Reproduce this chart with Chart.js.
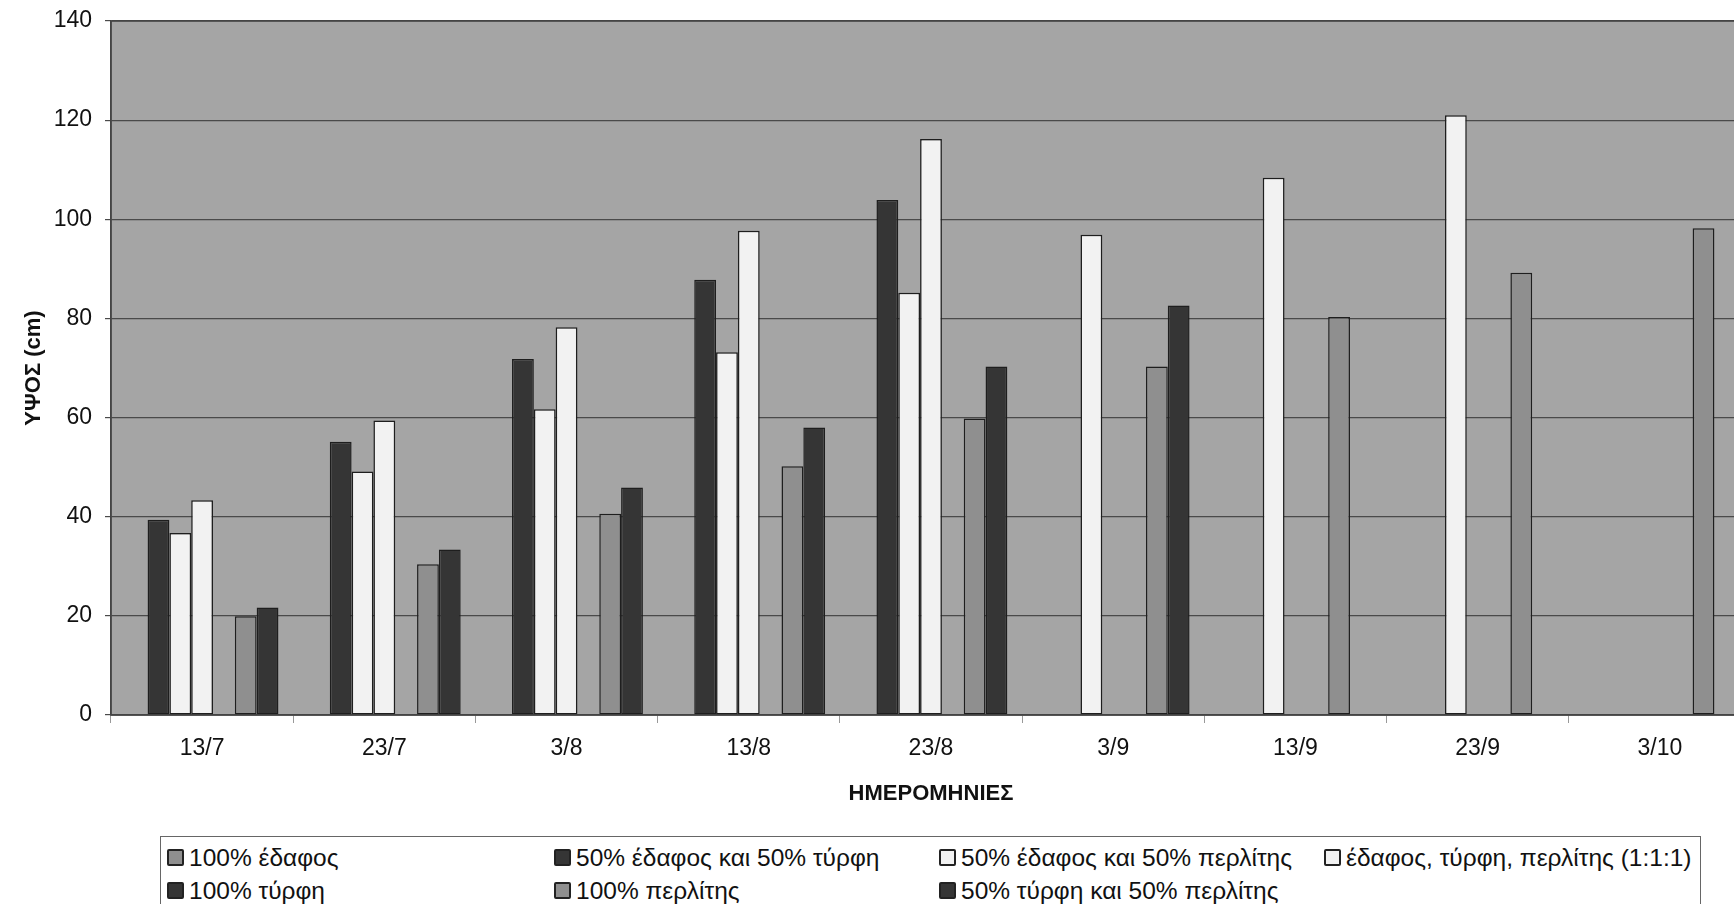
<!DOCTYPE html>
<html>
<head>
<meta charset="utf-8">
<script src="https://cdn.jsdelivr.net/npm/chart.js@4.4.1/dist/chart.umd.min.js"></script>
<style>
  html, body { margin: 0; padding: 0; background: #fff; overflow: hidden; width: 1734px; height: 904px; }
  #wrap { position: absolute; left: 0; top: 0; }
  #legend {
    position: absolute; left: 160px; top: 836px; width: 1541px; height: 90px;
    border: 1px solid #666; box-sizing: border-box; background: #fff;
    display: grid; grid-template-columns: 387px 385px 385px auto;
    grid-auto-rows: 33px; padding: 4px 0 0 6px;
    font-family: 'Liberation Sans', Arial, sans-serif; font-size: 24.5px; color: #111;
  }
  .item { display: flex; align-items: center; white-space: nowrap; }
  .box { width: 13px; height: 13px; border: 2px solid #222; border-radius: 2px; margin-right: 5px; }
</style>
</head>
<body>
<div id="wrap"><canvas id="chart" width="1760" height="833"></canvas></div>
<div id="legend"></div>
<script>
// === Data ===
const dates = ["13/7", "23/7", "3/8", "13/8", "23/8", "3/9", "13/9", "23/9", "3/10"];
const seriesNames = [
  "100% έδαφος",
  "50% έδαφος και 50% τύρφη",
  "50% έδαφος και 50% περλίτης",
  "έδαφος, τύρφη, περλίτης (1:1:1)",
  "100% τύρφη",
  "100% περλίτης",
  "50% τύρφη και 50% περλίτης"
];
const soil100 = [null, null, null, null, null, null, null, null, null];
const soilPeat = [39.4, 55.1, 71.8, 87.8, 103.9, null, null, null, null];
const soilPerlite = [36.7, 49.1, 61.7, 73.2, 85.2, 96.9, 108.4, 121.0, null];
const mix111 = [43.3, 59.4, 78.2, 97.7, 116.2, null, null, null, null];
const peat100 = [null, null, null, null, null, null, null, null, null];
const perlite100 = [19.9, 30.4, 40.6, 50.2, 59.8, 70.3, 80.3, 89.2, 98.2];
const peatPerlite = [21.7, 33.4, 45.9, 58.0, 70.3, 82.6, null, null, null];
const yTicks = [0, 20, 40, 60, 80, 100, 120, 140];

const seriesData = [soil100, soilPeat, soilPerlite, mix111, peat100, perlite100, peatPerlite];
const fills = ["#8f8f8f", "#353535", "#f2f2f2", "#f2f2f2", "#353535", "#8f8f8f", "#353535"];

Chart.defaults.font.family = "'Liberation Sans', Arial, sans-serif";
Chart.defaults.color = "#111";

// === Plot background + frame ===
const plotFrame = {
  id: "plotFrame",
  beforeDraw(chart) {
    const { ctx, chartArea: a } = chart;
    ctx.save();
    ctx.fillStyle = "#a5a5a5";
    ctx.fillRect(a.left, a.top, a.right - a.left, a.bottom - a.top);
    ctx.restore();
  },
  afterDraw(chart) {
    const { ctx, chartArea: a } = chart;
    ctx.save();
    ctx.strokeStyle = "#444";
    ctx.lineWidth = 1.5;
    ctx.strokeRect(a.left, a.top, a.right - a.left, a.bottom - a.top);
    ctx.restore();
  }
};

const ctx = document.getElementById("chart").getContext("2d");
new Chart(ctx, {
  type: "bar",
  data: {
    labels: dates,
    datasets: seriesNames.map((name, i) => ({
      label: name,
      data: seriesData[i],
      backgroundColor: fills[i],
      borderColor: "#1e1e1e",
      borderWidth: 1.5,
      borderSkipped: false,
      categoryPercentage: 0.838,
      barPercentage: 1
    }))
  },
  options: {
    responsive: false,
    animation: false,
    layout: { padding: { top: 21, right: 9, left: 0, bottom: 0 } },
    plugins: { legend: { display: false }, tooltip: { enabled: false } },
    scales: {
      x: {
        afterFit(scale) { scale.height = 118; },
        grid: { offset: true, drawOnChartArea: false, drawTicks: true, tickLength: 8, color: "#999" },
        border: { color: "#444", width: 1.5 },
        ticks: { font: { size: 23 }, padding: 12, maxRotation: 0 },
        title: { display: true, text: "ΗΜΕΡΟΜΗΝΙΕΣ", font: { size: 22, weight: "bold" }, padding: { top: 0, bottom: 26 } }
      },
      y: {
        min: 0, max: 140,
        afterFit(scale) { scale.width = 111; scale.paddingTop = 0; scale.paddingBottom = 0; },
        afterBuildTicks(scale) { scale.ticks = yTicks.map(v => ({ value: v })); },
        grid: { color: "#4a4a4a", lineWidth: 1.2, tickLength: 6 },
        border: { color: "#444", width: 1.5 },
        ticks: { font: { size: 23 }, padding: 13 },
        title: { display: true, text: "ΥΨΟΣ (cm)", font: { size: 22, weight: "bold" }, padding: { top: 21, bottom: 0 } }
      }
    }
  },
  plugins: [plotFrame]
});

// === Legend (4 columns, fills row by row like the original) ===
const legend = document.getElementById("legend");
seriesNames.forEach((name, i) => {
  const item = document.createElement("div");
  item.className = "item";
  item.innerHTML = `<span class="box" style="background:${fills[i]}"></span><span>${name}</span>`;
  legend.appendChild(item);
});
</script>
</body>
</html>
